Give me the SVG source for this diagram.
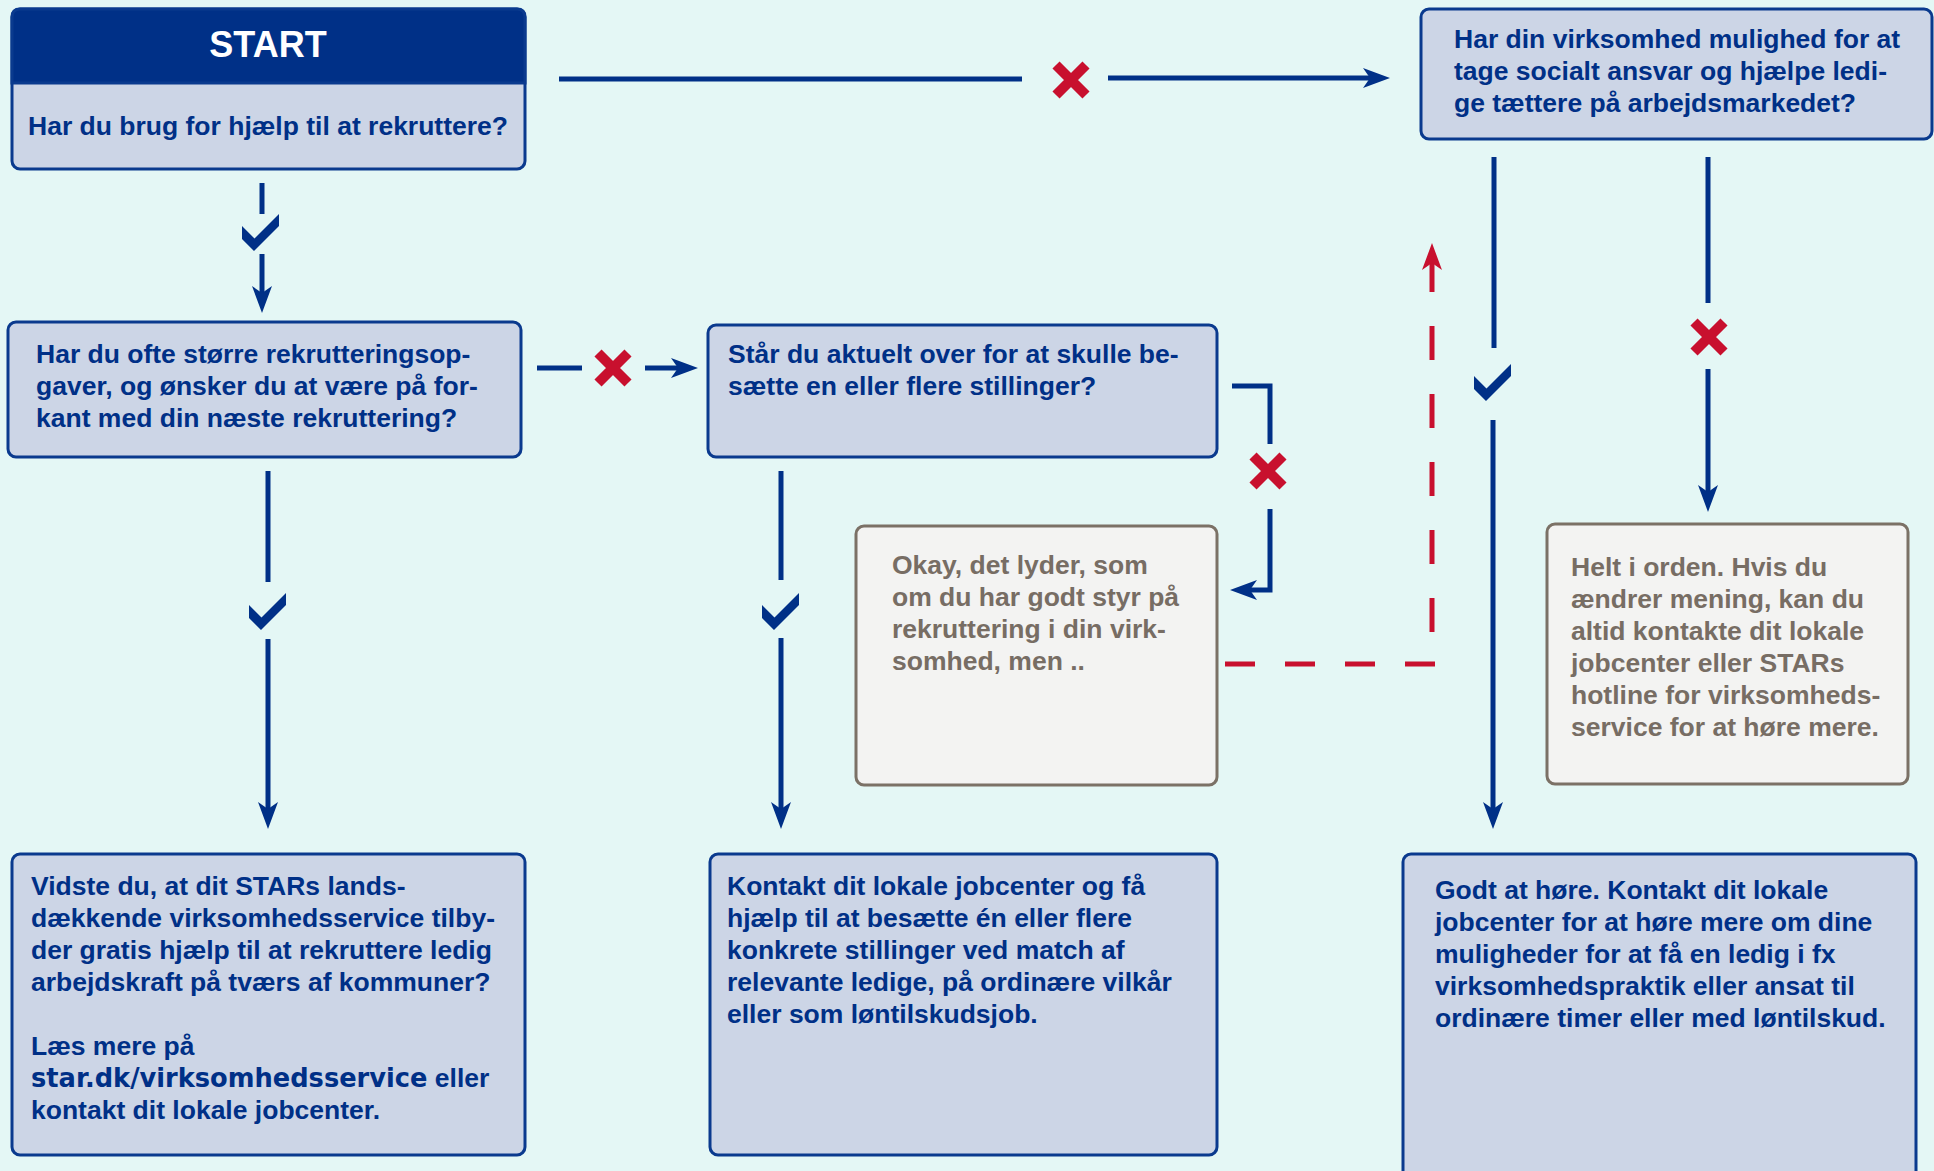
<svg xmlns="http://www.w3.org/2000/svg" xmlns:xlink="http://www.w3.org/1999/xlink" width="1934" height="1171" viewBox="0 0 1934 1171">
<style>
.bg{fill:#E4F7F5}
.box{fill:#CCD5E6;stroke:#0A3A8E;stroke-width:3}
.gbox{fill:#F3F3F2;stroke:#7B7166;stroke-width:3}
.t{font-family:"Liberation Sans",Arial,sans-serif;font-weight:bold;font-size:26.5px;fill:#003087}
.tg{font-family:"Liberation Sans",Arial,sans-serif;font-weight:bold;font-size:26.5px;fill:#776D64}
.hd{font-family:"Liberation Sans",Arial,sans-serif;font-weight:bold;font-size:36px;fill:#FFFFFF}
.link{font-family:"DejaVu Sans",Verdana,sans-serif;font-weight:bold;font-size:25.7px}
.ln{fill:none;stroke:#003087;stroke-width:5;stroke-linejoin:miter}
.arr{marker-end:url(#ah-blue)}
.red{fill:none;stroke:#C8102E;stroke-width:5}
.chk{fill:#003087}
</style>
<defs>
<marker id="ah-blue" viewBox="0 0 27 20" refX="12" refY="10" markerWidth="27" markerHeight="20" markerUnits="userSpaceOnUse" orient="auto"><path d="M0,0 L27,10 L0,20 L7,10 Z" fill="#003087"/></marker>
<marker id="ah-red" viewBox="0 0 27 20" refX="12" refY="10" markerWidth="27" markerHeight="20" markerUnits="userSpaceOnUse" orient="auto"><path d="M0,0 L27,10 L0,20 L7,10 Z" fill="#C8102E"/></marker>
<path id="chk" d="M0,12 L12.5,24.5 L37,0 L37,12 L12,37 L0,25 Z"/>
<path id="xm" d="M-15,-15 L15,15 M15,-15 L-15,15" stroke="#C8102E" stroke-width="10" stroke-linecap="butt" fill="none"/>
</defs>
<rect class="bg" x="0" y="0" width="1934" height="1171"/>

<g id="connectors">
  <g id="c-start-no">
    <path class="ln" d="M559,79 H1022"/>
    <use xlink:href="#xm" x="1071" y="80"/>
    <path class="ln arr" d="M1108,78 H1375"/>
  </g>
  <g id="c-start-yes">
    <path class="ln" d="M262,183 V214"/>
    <use class="chk" xlink:href="#chk" x="242" y="214"/>
    <path class="ln arr" d="M262,254 V298"/>
  </g>
  <g id="c-q2-no">
    <path class="ln" d="M537,368 H582"/>
    <use xlink:href="#xm" x="613" y="368"/>
    <path class="ln arr" d="M645,368 H683"/>
  </g>
  <g id="c-q2-yes">
    <path class="ln" d="M268,471 V582"/>
    <use class="chk" xlink:href="#chk" x="249" y="593"/>
    <path class="ln arr" d="M268,639 V814"/>
  </g>
  <g id="c-q3-yes">
    <path class="ln" d="M781,471 V580"/>
    <use class="chk" xlink:href="#chk" x="762" y="593"/>
    <path class="ln arr" d="M781,638 V814"/>
  </g>
  <g id="c-q3-no">
    <path class="ln" d="M1232,386 H1270 V444"/>
    <use xlink:href="#xm" x="1268" y="471"/>
    <path class="ln arr" d="M1270,509 V590 H1245"/>
  </g>
  <g id="c-okay-back">
    <path class="red" d="M1225,664 H1435" stroke-dasharray="30 30"/>
    <path class="red" d="M1432,632 V258" stroke-dasharray="34 34" marker-end="url(#ah-red)"/>
  </g>
  <g id="c-q4-yes">
    <path class="ln" d="M1494,157 V348"/>
    <use class="chk" xlink:href="#chk" x="1474" y="364"/>
    <path class="ln arr" d="M1493,420 V814"/>
  </g>
  <g id="c-q4-no">
    <path class="ln" d="M1708,157 V303"/>
    <use xlink:href="#xm" x="1709" y="337"/>
    <path class="ln arr" d="M1708,369 V497"/>
  </g>
</g>

<g id="n-start">
  <rect class="box" x="12" y="9" width="513" height="160" rx="8"/>
  <path d="M12,83 V17 Q12,9 20,9 H517 Q525,9 525,17 V83 Z" fill="#003087" stroke="#0A3A8E" stroke-width="3"/>
  <text class="hd" x="268" y="57" text-anchor="middle">START</text>
  <text class="t" x="268" y="135" text-anchor="middle">Har du brug for hjælp til at rekruttere?</text>
</g>

<g id="n-q2">
  <rect class="box" x="8" y="322" width="513" height="135" rx="8"/>
  <text class="t" x="36" y="363">Har du ofte større rekrutteringsop-</text>
  <text class="t" x="36" y="395">gaver, og ønsker du at være på for-</text>
  <text class="t" x="36" y="427">kant med din næste rekruttering?</text>
</g>

<g id="n-q3">
  <rect class="box" x="708" y="325" width="509" height="132" rx="8"/>
  <text class="t" x="728" y="363">Står du aktuelt over for at skulle be-</text>
  <text class="t" x="728" y="395">sætte en eller flere stillinger?</text>
</g>

<g id="n-q4">
  <rect class="box" x="1421" y="9" width="511" height="130" rx="8"/>
  <text class="t" x="1454" y="48">Har din virksomhed mulighed for at</text>
  <text class="t" x="1454" y="80">tage socialt ansvar og hjælpe ledi-</text>
  <text class="t" x="1454" y="112">ge tættere på arbejdsmarkedet?</text>
</g>

<g id="n-okay">
  <rect class="gbox" x="856" y="526" width="361" height="259" rx="8"/>
  <text class="tg" x="892" y="574">Okay, det lyder, som</text>
  <text class="tg" x="892" y="606">om du har godt styr på</text>
  <text class="tg" x="892" y="638">rekruttering i din virk-</text>
  <text class="tg" x="892" y="670">somhed, men ..</text>
</g>

<g id="n-helt">
  <rect class="gbox" x="1547" y="524" width="361" height="260" rx="8"/>
  <text class="tg" x="1571" y="576">Helt i orden. Hvis du</text>
  <text class="tg" x="1571" y="608">ændrer mening, kan du</text>
  <text class="tg" x="1571" y="640">altid kontakte dit lokale</text>
  <text class="tg" x="1571" y="672">jobcenter eller STARs</text>
  <text class="tg" x="1571" y="704">hotline for virksomheds-</text>
  <text class="tg" x="1571" y="736">service for at høre mere.</text>
</g>

<g id="n-vidste">
  <rect class="box" x="12" y="854" width="513" height="301" rx="8"/>
  <text class="t" x="31" y="895">Vidste du, at dit STARs lands-</text>
  <text class="t" x="31" y="927">dækkende virksomhedsservice tilby-</text>
  <text class="t" x="31" y="959">der gratis hjælp til at rekruttere ledig</text>
  <text class="t" x="31" y="991">arbejdskraft på tværs af kommuner?</text>
  <text class="t" x="31" y="1055">Læs mere på</text>
  <text class="t" x="31" y="1087"><tspan class="link">star.dk/virksomhedsservice</tspan> eller</text>
  <text class="t" x="31" y="1119">kontakt dit lokale jobcenter.</text>
</g>

<g id="n-kontakt">
  <rect class="box" x="710" y="854" width="507" height="301" rx="8"/>
  <text class="t" x="727" y="895">Kontakt dit lokale jobcenter og få</text>
  <text class="t" x="727" y="927">hjælp til at besætte én eller flere</text>
  <text class="t" x="727" y="959">konkrete stillinger ved match af</text>
  <text class="t" x="727" y="991">relevante ledige, på ordinære vilkår</text>
  <text class="t" x="727" y="1023">eller som løntilskudsjob.</text>
</g>

<g id="n-godt">
  <rect class="box" x="1403" y="854" width="513" height="340" rx="8"/>
  <text class="t" x="1435" y="899">Godt at høre. Kontakt dit lokale</text>
  <text class="t" x="1435" y="931">jobcenter for at høre mere om dine</text>
  <text class="t" x="1435" y="963">muligheder for at få en ledig i fx</text>
  <text class="t" x="1435" y="995">virksomhedspraktik eller ansat til</text>
  <text class="t" x="1435" y="1027">ordinære timer eller med løntilskud.</text>
</g>
</svg>
